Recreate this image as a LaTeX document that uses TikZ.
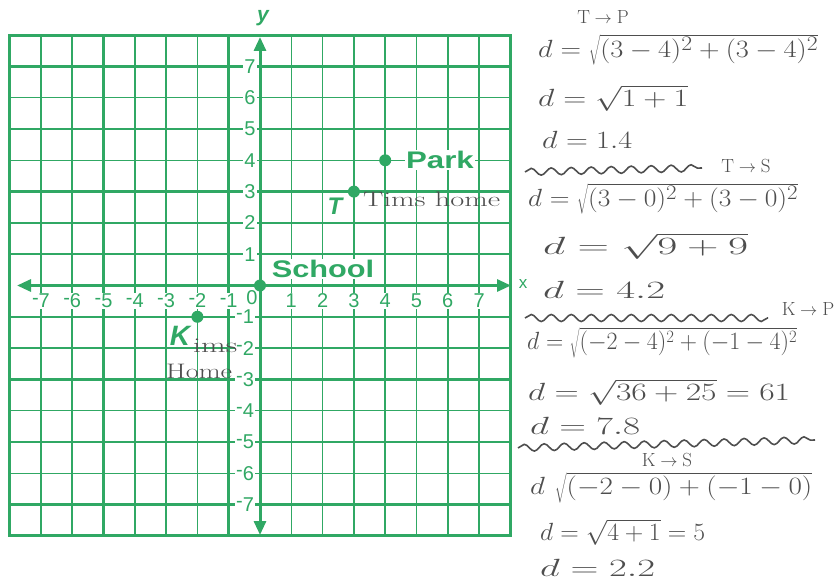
\documentclass[tikz,border=0pt]{standalone}
\usepackage{fontspec}
\usepackage{graphicx}
\setsansfont{Liberation Sans}
\usetikzlibrary{arrows.meta,decorations.pathmorphing}
\definecolor{gr}{RGB}{48,168,100}
\definecolor{pen}{RGB}{78,78,78}
\newcommand\hw[2]{\resizebox{#1}{\height}{$#2$}}
\newcommand\hwt[2]{\resizebox{#1}{\height}{#2}}
\newcommand\ngm[1]{\raisebox{0.35ex}{-}#1}
\begin{document}
\begin{tikzpicture}[x=1pt,y=-1pt,
  gthin/.style={gr,line width=1.5pt},
  gthick/.style={gr,line width=2.5pt},
  axis/.style={gr,line width=3pt,{Triangle[length=14pt,width=12pt]}-{Triangle[length=14pt,width=12pt]}},
  tick/.style={text=gr,fill=white,inner sep=1pt,font=\sffamily\fontsize{20}{20}\selectfont},
  blab/.style={text=gr,fill=white,inner sep=1pt,font=\sffamily\bfseries\fontsize{24}{24}\selectfont},
  dot/.style={circle,fill=gr,inner sep=0pt,minimum size=12pt},
  hand/.style={text=pen,inner sep=0pt,anchor=west,font=\fontsize{28}{30}\selectfont},
  handsm/.style={hand,font=\fontsize{24}{26}\selectfont},
  small/.style={text=pen,inner sep=0pt,font=\fontsize{19}{20}\selectfont},
  wave/.style={pen,line width=1.6pt,decorate,decoration={snake,amplitude=3.5pt,segment length=20pt}}]
\useasboundingbox (0,0) rectangle (838,583);
\def\ox{260}\def\oy{285.5}\def\u{31.3}
% grid
\foreach \i in {-7,-6,-4,-2,1,2,3,5,6,7}
  \draw[gthin] ({\ox+\u*\i},35.1) -- ({\ox+\u*\i},535.9);
\foreach \i in {-5,-3,-1,4}
  \draw[gthick] ({\ox+\u*\i},35.1) -- ({\ox+\u*\i},535.9);
\foreach \j in {-6,-4,-2,2,4,6}
  \draw[gthin] (9.6,{\oy+\u*\j}) -- (510.4,{\oy+\u*\j});
\foreach \j in {-7,-5,-3,-1,1,3,5,7}
  \draw[gthick] (9.6,{\oy+\u*\j}) -- (510.4,{\oy+\u*\j});
\draw[gr,line width=3pt] (9.6,35.1) rectangle (510.4,535.9);
% tick labels
\foreach \k in {1,...,7} {
  \node[tick] (ty\k) at (250,{\oy-\u*\k}) {\k};
  \node[tick] (tyn\k) at (245,{\oy+\u*\k}) {\ngm{\k}};
  \node[tick] (tx\k) at ({\ox+\u*\k},301) {\k};
  \node[tick] (txn\k) at ({\ox-\u*\k},301) {\ngm{\k}};
}
\node[tick,fill=none] (t0) at (252,298) {0};
% axes
\coordinate (xl) at (17,\oy);
\coordinate (xr) at (511,\oy);
\coordinate (yt) at (\ox,37);
\coordinate (yb) at (\ox,535);
\draw[axis] (xl) -- (xr);
\draw[axis] (yb) -- (yt);
\node[text=gr,font=\sffamily\bfseries\itshape\fontsize{21}{21}\selectfont] (ylab) at (263,18) {y};
\node[text=gr,font=\sffamily\fontsize{17}{17}\selectfont] (xlab) at (523,284) {x};
% points
\node[dot] (park) at ({\ox+4*\u},{\oy-4*\u}) {};
\node[dot] (tim) at ({\ox+3*\u},{\oy-3*\u}) {};
\node[dot] (school) at (\ox,\oy) {};
\node[dot] (kim) at ({\ox-2*\u},{\oy+\u}) {};
\node[blab] (parkl) at (440,160) {\scalebox{1.3}[1]{Park}};
\node[blab] (schooll) at (323,269) {\scalebox{1.28}[1]{School}};
\node[text=gr,inner sep=0pt,font=\sffamily\bfseries\itshape\fontsize{24}{24}\selectfont] (tl) at (335,206) {T};
\node[text=gr,inner sep=0pt,font=\sffamily\bfseries\itshape\fontsize{28}{28}\selectfont] (kl) at (180,336) {K};
\node[text=pen,inner sep=0pt,anchor=west,font=\fontsize{21}{22}\selectfont] (timh) at (363,199) {\hwt{137pt}{Tims home}};
\node[text=pen,inner sep=0pt,anchor=west,font=\fontsize{21}{22}\selectfont] (kimh1) at (193,346) {\hwt{44pt}{ims}};
\node[text=pen,inner sep=0pt,anchor=west,font=\fontsize{21}{22}\selectfont] (kimh2) at (166,371) {\hwt{66pt}{Home}};
% working on the right
\node[small] (h1) at (603,17) {$\mathrm{T\to P}$};
\node[hand] (l1) at (538,50) {\hw{280pt}{d=\sqrt{(3-4)^2+(3-4)^2}}};
\node[hand] (l2) at (538,98) {\hw{150pt}{d=\sqrt{1+1}}};
\node[hand] (l3) at (542,140) {\hw{90pt}{d=1.4}};
\coordinate (w1a) at (525,172); \coordinate (w1b) at (702,168);
\draw[wave] (w1a) -- (w1b);
\node[small] (h2) at (746,166) {$\mathrm{T\to S}$};
\node[hand] (l4) at (528,199) {\hw{270pt}{d=\sqrt{(3-0)^2+(3-0)^2}}};
\node[hand] (l5) at (543,246) {\hw{205pt}{d=\sqrt{9+9}}};
\node[hand] (l6) at (543,290) {\hw{122pt}{d=4.2}};
\coordinate (w2a) at (525,318); \coordinate (w2b) at (768,318);
\draw[wave] (w2a) -- (w2b);
\node[small] (h3) at (808,309) {$\mathrm{K\to P}$};
\node[handsm] (l7) at (527,343) {\hw{270pt}{d=\sqrt{(-2-4)^2+(-1-4)^2}}};
\node[handsm] (l8) at (528,392) {\hw{262pt}{d=\sqrt{36+25}=61}};
\node[hand] (l9) at (530,426) {\hw{110pt}{d=7.8}};
\coordinate (w3a) at (518,448); \coordinate (w3b) at (815,440);
\draw[wave] (w3a) -- (w3b);
\node[small] (h4) at (667,460) {$\mathrm{K\to S}$};
\node[hand] (l10) at (530,488) {\hw{282pt}{d\ \sqrt{(-2-0)+(-1-0)}}};
\node[hand] (l11) at (540,532) {\hw{165pt}{d=\sqrt{4+1}=5}};
\node[hand] (l12) at (540,568) {\hw{115pt}{d=2.2}};
\end{tikzpicture}
\end{document}
